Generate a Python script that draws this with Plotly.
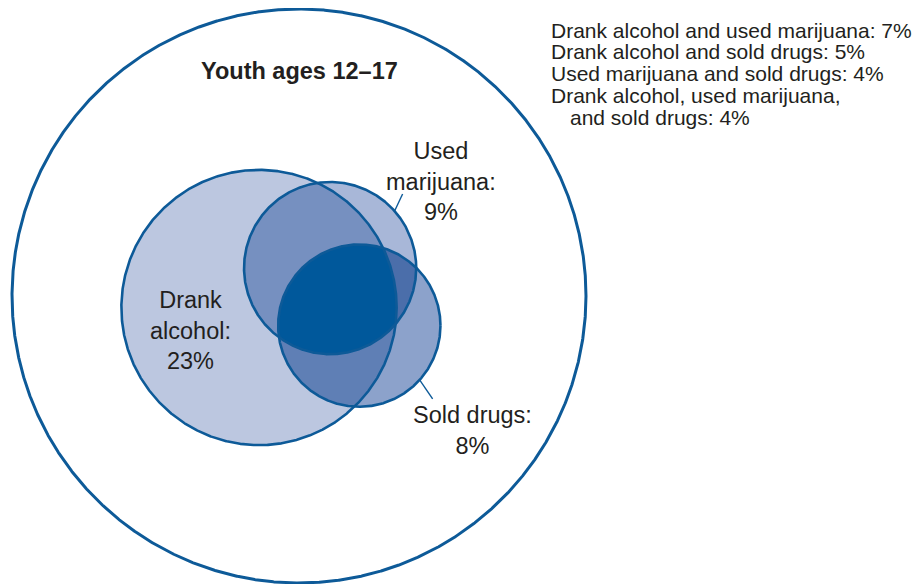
import math
import numpy as np
import plotly.graph_objects as go

# ---------------- data ----------------
population_label = "Youth ages 12–17"
population_pct = 100

set_labels = ["Drank\nalcohol", "Used\nmarijuana", "Sold drugs"]
set_pct = [23, 9, 8]

overlap_labels = [
    "Drank alcohol and used marijuana",
    "Drank alcohol and sold drugs",
    "Used marijuana and sold drugs",
    "Drank alcohol, used marijuana,\nand sold drugs",
]
overlap_pct = [7, 5, 4, 4]
overlap_pairs = [(0, 1), (0, 2), (1, 2), (0, 1, 2)]

# ---------------- layout / style ----------------
PAGE_W, PAGE_H = 920, 584
PAGE_MARGIN = 8              # default body margin of the html page
W, H = PAGE_W - PAGE_MARGIN, PAGE_H - PAGE_MARGIN
SCALE = 28.7                 # px per sqrt(percent) -> circle area proportional to %
OUTER_CENTER = (299.0, 296.0)
FIRST_CENTER = (259.0, 307.5)
FIRST_PAIR_ANGLE = math.radians(29)
TIGHTNESS = 0.9              # the drawn layout is slightly tighter than area-exact

STROKE = "#0D5A98"
TEXT = "#231F20"
FONT = "Liberation Sans, Arial, Helvetica, sans-serif"
REGION_COLORS = {
    (0,): "#BCC7E0",
    (1,): "#A8B7D8",
    (2,): "#8CA2CB",
    (0, 1): "#7690C0",
    (0, 2): "#5F7FB5",
    (1, 2): "#4B6EAA",
    (0, 1, 2): "#00589B",
}


def lens_area(r1, r2, d):
    if d >= r1 + r2:
        return 0.0
    if d <= abs(r1 - r2):
        return math.pi * min(r1, r2) ** 2
    a1 = r1 ** 2 * math.acos((d * d + r1 * r1 - r2 * r2) / (2 * d * r1))
    a2 = r2 ** 2 * math.acos((d * d + r2 * r2 - r1 * r1) / (2 * d * r2))
    a3 = 0.5 * math.sqrt((-d + r1 + r2) * (d + r1 - r2) * (d - r1 + r2) * (d + r1 + r2))
    return a1 + a2 - a3


def distance_for_overlap(r1, r2, pct):
    target = math.pi * SCALE ** 2 * pct
    lo, hi = abs(r1 - r2), r1 + r2
    for _ in range(100):
        mid = 0.5 * (lo + hi)
        if lens_area(r1, r2, mid) > target:
            lo = mid
        else:
            hi = mid
    return 0.5 * (lo + hi)


radii = [SCALE * math.sqrt(p) for p in set_pct]
outer_r = SCALE * math.sqrt(population_pct)

d01 = distance_for_overlap(radii[0], radii[1], overlap_pct[0]) * TIGHTNESS
d02 = distance_for_overlap(radii[0], radii[2], overlap_pct[1]) * TIGHTNESS
d12 = distance_for_overlap(radii[1], radii[2], overlap_pct[2]) * TIGHTNESS
angle_at_first = math.acos((d01 ** 2 + d02 ** 2 - d12 ** 2) / (2 * d01 * d02))

c0 = FIRST_CENTER
c1 = (c0[0] + d01 * math.cos(FIRST_PAIR_ANGLE), c0[1] - d01 * math.sin(FIRST_PAIR_ANGLE))
a2 = FIRST_PAIR_ANGLE - angle_at_first
c2 = (c0[0] + d02 * math.cos(a2), c0[1] - d02 * math.sin(a2))
centers = [c0, c1, c2]


def circle_pts(c, r, n=1440):
    t = np.linspace(0, 2 * np.pi, n + 1)
    return c[0] + r * np.cos(t), c[1] + r * np.sin(t)


def region_polygon(idx):
    xs, ys = [], []
    for i in idx:
        t = np.linspace(0, 2 * np.pi, 3000, endpoint=False)
        x = centers[i][0] + radii[i] * np.cos(t)
        y = centers[i][1] + radii[i] * np.sin(t)
        mask = np.ones_like(x, dtype=bool)
        for j in idx:
            if j == i:
                continue
            mask &= (x - centers[j][0]) ** 2 + (y - centers[j][1]) ** 2 <= radii[j] ** 2 + 1e-6
        xs.append(x[mask])
        ys.append(y[mask])
    x = np.concatenate(xs)
    y = np.concatenate(ys)
    cx, cy = x.mean(), y.mean()
    order = np.argsort(np.arctan2(y - cy, x - cx))
    x, y = x[order], y[order]
    return np.append(x, x[0]), np.append(y, y[0])


fig = go.Figure()


def add_fill(x, y, color):
    fig.add_trace(go.Scatter(x=x, y=y, mode="lines", fill="toself", fillcolor=color,
                             line=dict(width=0, color=color), hoverinfo="skip", showlegend=False))


def add_outline(x, y, width):
    fig.add_trace(go.Scatter(x=x, y=y, mode="lines", line=dict(width=width, color=STROKE),
                             hoverinfo="skip", showlegend=False))


# fills, layered so that each region ends up with its own colour
draw_order = [(0,), (1,), (0, 1), (2,), (0, 2), (1, 2), (0, 1, 2)]
for key in draw_order:
    if len(key) == 1:
        x, y = circle_pts(centers[key[0]], radii[key[0]])
    else:
        x, y = region_polygon(key)
    add_fill(x, y, REGION_COLORS[key])

for i in range(3):
    x, y = circle_pts(centers[i], radii[i])
    add_outline(x, y, 2.6)

x, y = circle_pts(OUTER_CENTER, outer_r, 2880)
add_outline(x, y, 3.0)

# leader lines (from circle edge toward label)
leaders = [(1, math.radians(-41.5), (8, -17)), (2, math.radians(42), (13, 19))]
for i, ang, vec in leaders:
    sx = centers[i][0] + radii[i] * math.cos(ang)
    sy = centers[i][1] + radii[i] * math.sin(ang)
    fig.add_trace(go.Scatter(x=[sx, sx + vec[0]], y=[sy, sy + vec[1]], mode="lines",
                             line=dict(width=1.4, color=STROKE), hoverinfo="skip", showlegend=False))

# ---------------- text ----------------
annotations = []
annotations.append(dict(x=OUTER_CENTER[0], y=71, text="<b>%s</b>" % population_label,
                        font=dict(family=FONT, size=23.5, color=TEXT)))

label_pos = [(190, 330), (441, 181), (472, 430)]
for lbl, pct, (lx, ly) in zip(set_labels, set_pct, label_pos):
    txt = lbl.replace("\n", "<br>") + ":<br>%d%%" % pct
    annotations.append(dict(x=lx, y=ly, text=txt, align="center",
                            font=dict(family=FONT, size=23.5, color=TEXT)))

line_y = 30
for lbl, pct in zip(overlap_labels, overlap_pct):
    parts = (lbl + ": %d%%" % pct).split("\n")
    for k, part in enumerate(parts):
        annotations.append(dict(x=549 if k == 0 else 568, y=line_y, text=part, xanchor="left",
                                align="left", font=dict(family=FONT, size=21, color=TEXT)))
        line_y += 21.8

for a in annotations:
    a.setdefault("xanchor", "center")
    a.update(dict(xref="x", yref="y", yanchor="middle", showarrow=False))

fig.update_layout(
    width=W, height=H,
    margin=dict(l=0, r=0, t=0, b=0),
    paper_bgcolor="white", plot_bgcolor="white",
    xaxis=dict(range=[PAGE_MARGIN, PAGE_W], visible=False, fixedrange=True),
    yaxis=dict(range=[PAGE_H, PAGE_MARGIN], visible=False, fixedrange=True),
    annotations=annotations,
    showlegend=False,
)

fig.write_html("out.html")
